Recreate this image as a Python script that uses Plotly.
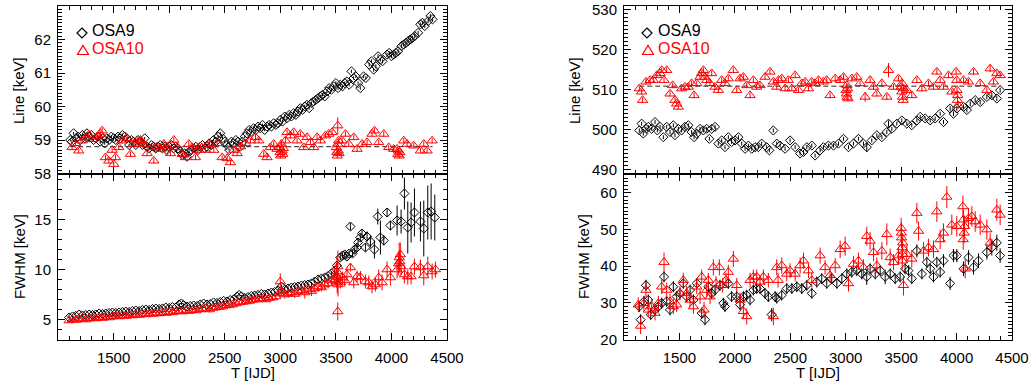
import plotly.graph_objects as go

# ---------------- data (T [IJD], value, error) ----------------
L_LINE_OSA9 = [
(1110,59.0,.04),(1125,58.95,.04),(1140,59.2,.04),(1160,59.05,.04),(1180,59.1,.04),(1200,59.0,.04),
(1220,59.15,.04),(1240,59.05,.04),(1260,59.2,.04),(1280,59.1,.04),(1300,59.15,.04),(1320,59.0,.04),
(1340,59.05,.04),(1360,59.1,.04),(1380,58.95,.04),(1400,59.05,.04),(1420,58.9,.04),(1440,59.05,.04),
(1460,59.0,.04),(1480,59.1,.04),(1500,59.05,.04),(1520,59.0,.04),(1540,59.1,.04),(1560,59.05,.04),
(1580,59.15,.04),(1600,59.1,.04),(1620,59.05,.04),(1640,58.85,.04),(1660,59.0,.04),(1680,58.95,.04),
(1700,58.85,.04),(1720,59.0,.04),(1740,58.95,.04),(1760,58.85,.04),(1780,59.05,.04),(1800,58.8,.04),
(1820,58.75,.04),(1840,58.85,.04),(1860,58.8,.04),(1880,58.75,.04),(1900,58.8,.04),(1920,58.85,.04),
(1940,58.75,.04),(1960,58.8,.04),(1980,58.7,.04),(2000,58.8,.04),(2020,58.85,.04),(2040,58.75,.04),
(2060,58.8,.04),(2080,58.75,.04),(2100,58.65,.04),(2120,58.55,.04),(2140,58.6,.04),(2160,58.5,.04),
(2180,58.65,.04),(2200,58.7,.04),(2220,58.75,.04),(2240,58.8,.04),(2260,58.7,.04),(2280,58.8,.04),
(2300,58.85,.04),(2320,58.75,.04),(2340,58.8,.04),(2360,58.9,.04),(2380,58.85,.04),(2400,59.0,.04),
(2420,58.95,.04),(2440,59.1,.04),(2460,59.2,.04),(2480,59.05,.04),(2500,58.95,.04),(2520,58.85,.04),
(2540,58.7,.04),(2560,58.95,.04),(2580,58.9,.04),(2600,59.0,.04),(2620,58.95,.04),(2640,58.8,.04),
(2660,58.95,.04),(2680,59.1,.04),(2700,59.2,.04),(2720,59.3,.04),(2740,59.25,.04),(2760,59.35,.04),
(2780,59.3,.04),(2800,59.4,.04),(2820,59.35,.04),(2840,59.45,.04),(2860,59.3,.04),(2880,59.4,.04),
(2900,59.45,.04),(2920,59.4,.04),(2940,59.5,.04),(2960,59.45,.04),(2980,59.5,.04),(3000,59.6,.05),
(3020,59.55,.05),(3040,59.7,.05),(3060,59.65,.05),(3080,59.75,.05),(3100,59.7,.05),(3120,59.8,.05),
(3140,59.75,.05),(3160,59.85,.05),(3180,59.95,.05),(3200,59.9,.05),(3220,60.0,.05),(3240,60.05,.05),
(3260,59.95,.05),(3280,60.1,.05),(3300,60.15,.05),(3320,60.2,.05),(3340,60.25,.05),(3360,60.3,.05),
(3380,60.35,.05),(3400,60.3,.05),(3420,60.45,.05),(3440,60.55,.05),(3460,60.5,.05),(3480,60.6,.05),
(3500,60.7,.05),(3520,60.55,.05),(3540,60.65,.05),(3560,60.6,.05),(3580,60.7,.05),(3600,60.75,.05),
(3620,60.65,.05),(3640,61.05,.05),(3660,60.85,.05),(3680,60.9,.05),(3700,60.7,.05),(3720,60.55,.05),
(3750,60.9,.05),(3770,60.85,.05),(3800,61.25,.06),(3820,61.35,.06),(3840,61.1,.06),(3860,61.2,.06),
(3880,61.5,.06),(3900,61.4,.06),(3920,61.35,.06),(3960,61.55,.06),(3980,61.6,.06),(4000,61.5,.06),
(4020,61.55,.06),(4040,61.6,.06),(4060,61.65,.06),(4090,61.8,.06),(4110,61.85,.06),(4130,61.9,.06),
(4150,61.95,.06),(4170,62.0,.06),(4190,62.05,.06),(4210,62.1,.06),(4240,62.2,.06),(4260,62.45,.06),
(4280,62.5,.06),(4300,62.4,.06),(4330,62.55,.06),(4350,62.7,.06),(4370,62.6,.06)]

L_LINE_OSA10 = [
(1127,58.78,.08),(1157,58.9,.08),(1187,58.68,.08),(1217,58.98,.08),(1247,59.08,.08),(1277,59.15,.08),
(1307,59.02,.08),(1352,59.1,.08),(1382,59.18,.08),(1397,59.28,.08),(1427,58.48,.08),(1457,58.38,.08),
(1487,58.7,.08),(1502,58.28,.08),(1517,58.48,.08),(1547,58.78,.08),(1577,58.98,.08),(1622,59.05,.08),
(1652,58.58,.08),(1682,58.88,.08),(1712,58.98,.08),(1742,59.0,.08),(1752,58.95,.08),(1772,58.88,.08),
(1802,58.6,.08),(1847,58.78,.08),(1862,58.38,.08),(1892,58.8,.08),(1922,58.73,.08),(1952,58.88,.08),
(1982,58.8,.08),(2012,58.6,.08),(2042,59.0,.08),(2072,58.78,.08),(2117,58.58,.08),(2147,58.48,.08),
(2177,58.88,.08),(2207,58.78,.08),(2237,58.48,.08),(2252,58.7,.08),(2282,58.8,.08),(2327,58.7,.08),
(2357,58.88,.08),(2402,58.7,.08),(2432,58.9,.08),(2477,58.48,.08),(2522,58.45,.08),(2552,58.33,.08),
(2582,58.7,.08),(2612,58.6,.08),(2642,58.8,.08),(2687,58.9,.08),(2732,58.98,.08),(2777,59.08,.08),
(2807,58.98,.08),(2851,58.58,.08),(2881,58.48,.08),(2911,58.78,.08),(2941,58.88,.08),(2971,58.73,.08),
(2994,58.78,.08),(2998,58.63,.08),(3004,58.53,.08),(3010,58.88,.08),(3016,58.68,.08),(3022,58.58,.08),
(3028,58.75,.08),(3046,58.98,.08),(3061,59.23,.08),(3091,59.13,.08),(3121,59.23,.08),(3151,58.98,.08),
(3181,59.18,.08),(3211,58.78,.08),(3241,59.08,.08),(3271,58.93,.08),(3301,58.78,.08),(3331,59.08,.08),
(3361,58.98,.08),(3406,59.13,.08),(3436,59.18,.08),(3466,59.23,.08),(3517,59.43,.25),(3505,58.78,.08),
(3509,58.63,.08),(3513,58.53,.08),(3517,58.88,.08),(3521,58.68,.08),(3525,58.98,.08),(3529,58.6,.08),
(3556,58.98,.08),(3586,59.18,.08),(3616,58.88,.08),(3661,59.08,.08),(3691,58.73,.08),(3736,58.88,.08),
(3781,58.93,.08),(3826,59.18,.08),(3847,59.28,.08),(3886,58.93,.08),(3931,59.18,.08),(3976,58.78,.08),
(4021,58.73,.08),(4051,58.73,.08),(4058,58.58,.08),(4064,58.68,.08),(4070,58.53,.08),(4076,58.63,.08),
(4111,58.98,.08),(4141,58.88,.08),(4201,58.83,.08),(4261,58.68,.08),(4291,58.88,.08),(4321,58.68,.08),
(4366,58.98,.08)]

L_FWHM_OSA9 = [
(1100,5.2,.1),(1130,5.3,.1),(1160,5.35,.1),(1190,5.5,.1),(1220,5.4,.1),(1250,5.45,.1),(1280,5.5,.1),
(1310,5.45,.1),(1340,5.5,.1),(1370,5.6,.1),(1400,5.55,.1),(1430,5.6,.1),(1460,5.65,.1),(1490,5.7,.1),
(1520,5.65,.1),(1550,5.7,.1),(1580,5.75,.1),(1610,5.8,.1),(1640,5.75,.1),(1670,5.85,.1),(1700,5.9,.1),
(1730,5.85,.1),(1760,5.95,.1),(1790,6.0,.1),(1820,5.95,.1),(1850,6.05,.1),(1880,6.1,.1),(1910,6.05,.1),
(1940,6.1,.1),(1970,6.2,.1),(2000,6.15,.1),(2030,6.25,.1),(2060,6.2,.1),(2090,6.5,.15),(2110,6.6,.15),
(2130,6.45,.15),(2160,6.3,.1),(2190,6.35,.1),(2220,6.4,.1),(2250,6.35,.1),(2280,6.5,.1),(2310,6.6,.1),
(2340,6.5,.1),(2370,6.55,.1),(2400,6.7,.1),(2430,6.65,.1),(2460,6.75,.1),(2490,6.85,.1),(2520,6.8,.1),
(2550,6.95,.1),(2580,7.0,.1),(2610,7.3,.15),(2630,7.45,.15),(2650,7.3,.15),(2680,7.15,.1),(2710,7.25,.1),
(2740,7.35,.1),(2770,7.4,.1),(2800,7.45,.1),(2830,7.55,.1),(2860,7.5,.1),(2890,7.6,.1),(2920,7.7,.1),
(2950,7.75,.1),(2980,7.9,.15),(3010,8.3,.2),(3040,8.0,.15),(3070,8.1,.15),(3100,8.2,.15),(3130,8.25,.15),
(3160,8.3,.15),(3190,8.4,.15),(3220,8.45,.15),(3250,8.5,.15),(3280,8.6,.15),(3310,8.8,.2),(3340,9.0,.2),
(3370,9.1,.2),(3400,9.2,.2),(3430,9.35,.2),(3460,9.6,.2),(3490,9.9,.25),(3510,10.4,.3),(3540,11.2,.3),
(3560,11.4,.3),(3580,11.5,.3),(3600,11.3,.3),(3620,11.6,.3),(3631,14.3,.35),(3650,11.6,.35),
(3670,12.0,.4),(3690,12.2,.4),(3700,12.7,.4),(3720,13.2,.4),(3735,13.6,.4),(3766,12.2,.4),
(3781,13.3,.5),(3811,12.8,.6),(3847,12.0,.9),(3877,15.3,.8),(3901,13.2,1.7),(3931,12.9,.5),
(3961,15.7,.4),(3991,14.4,.5),(4051,14.9,1.5),(4087,14.8,1.2),(4117,17.6,1.6),(4147,14.2,2.6),
(4177,14.7,2.0),(4207,15.7,2.4),(4261,14.8,2.0),(4291,14.1,2.8),(4327,15.7,2.7),(4357,15.8,2.8),
(4390,15.2,2.3)]

L_FWHM_OSA10 = [
(1100,4.9,.15),(1130,5.0,.15),(1160,4.95,.15),(1190,5.1,.15),(1220,5.05,.15),(1250,5.0,.15),
(1280,5.1,.15),(1310,5.15,.15),(1340,5.1,.15),(1370,5.2,.15),(1400,5.15,.15),(1430,5.25,.15),
(1460,5.2,.15),(1490,5.3,.15),(1520,5.35,.15),(1550,5.3,.15),(1580,5.4,.15),(1610,5.35,.15),
(1640,5.45,.15),(1670,5.4,.15),(1700,5.5,.15),(1730,5.45,.15),(1760,5.55,.15),(1790,5.5,.15),
(1820,5.6,.15),(1850,5.55,.15),(1880,5.65,.15),(1910,5.6,.15),(1940,5.7,.15),(1970,5.65,.15),
(2000,5.75,.15),(2030,5.7,.15),(2060,5.8,.15),(2090,5.85,.15),(2120,5.8,.15),(2150,5.9,.15),
(2180,5.85,.15),(2210,5.95,.15),(2240,5.9,.15),(2270,6.0,.15),(2300,6.05,.15),(2330,6.1,.15),
(2360,6.0,.3),(2390,6.15,.15),(2420,6.2,.15),(2450,6.25,.15),(2480,6.3,.15),(2510,6.4,.15),
(2540,6.45,.15),(2570,6.5,.15),(2600,6.6,.2),(2630,6.7,.2),(2660,6.75,.2),(2690,6.8,.2),
(2720,6.85,.2),(2750,6.95,.2),(2780,7.0,.2),(2810,7.05,.2),(2840,7.1,.25),(2870,7.0,.25),
(2900,7.15,.25),(2930,7.2,.25),(2960,7.3,.25),(2990,7.6,.3),(3000,8.8,.8),(3010,7.8,.4),
(3040,7.5,.4),(3070,7.6,.4),(3100,7.7,.4),(3130,7.55,.4),(3160,7.8,.5),(3190,7.9,.4),(3220,7.7,.6),
(3250,8.0,.4),(3280,7.85,.5),(3310,8.1,.4),(3340,8.3,.5),(3370,8.2,.4),(3400,8.5,.5),(3430,8.6,.5),
(3460,8.9,.5),(3490,9.0,.6),(3505,9.4,1.2),(3510,9.8,1.5),(3512,8.8,1.2),(3515,9.2,1.4),
(3518,10.3,1.6),(3520,8.5,1.2),(3517,5.8,.9),(3540,8.7,.6),(3560,9.2,.6),(3580,8.9,.6),(3600,9.5,.7),
(3631,10.2,.4),(3661,8.7,.6),(3691,9.3,.6),(3721,9.25,.6),(3766,8.8,.7),(3796,8.7,.7),(3826,8.3,.7),
(3856,8.5,.7),(3886,9.2,.8),(3916,8.7,.8),(3961,10.0,.8),(3991,9.2,.8),(4051,10.0,.9),(4065,10.6,1.2),
(4070,11.2,1.5),(4075,10.8,1.0),(4080,11.5,1.2),(4087,10.3,.9),(4117,9.5,.9),(4147,9.3,.8),
(4177,9.3,.8),(4207,10.3,.8),(4261,10.2,.8),(4291,9.4,1.0),(4327,10.3,1.0),(4366,9.8,.8),(4396,10.0,.8)]

R_LINE_OSA9 = [
(1138,499.8,.5),(1159,501.5,.5),(1174,499.0,.5),(1198,500.2,.5),(1219,500.7,.5),(1250,500.2,.5),
(1280,501.9,.5),(1301,499.8,.5),(1325,500.7,.5),(1355,498.1,.5),(1385,500.7,.5),(1415,499.4,.5),
(1445,501.1,.5),(1460,498.6,.5),(1490,500.2,.5),(1520,499.8,.5),(1550,500.7,.5),(1580,501.1,.5),
(1610,499.4,.5),(1632,498.1,.5),(1656,499.0,.5),(1686,500.2,.5),(1716,499.8,.5),(1746,500.2,.5),
(1770,497.7,.5),(1791,500.2,.5),(1821,500.7,.5),(1851,496.5,.5),(1881,497.3,.5),(1911,495.6,.5),
(1941,498.1,.5),(1971,496.9,.5),(2002,497.3,.5),(2032,498.1,.5),(2062,496.5,.5),(2092,495.2,.5),
(2122,496.0,.5),(2152,495.2,.5),(2182,495.6,.5),(2212,495.6,.5),(2242,496.5,.5),(2287,495.6,.5),
(2311,494.8,.5),(2347,499.8,.5),(2378,496.5,.5),(2408,496.0,.5),(2453,495.2,.5),(2498,497.3,.5),
(2544,495.6,.5),(2589,494.0,.5),(2619,494.4,.5),(2649,495.6,.5),(2694,496.0,.5),(2724,493.5,.5),
(2769,494.8,.5),(2799,495.6,.5),(2844,496.0,.5),(2890,496.0,.5),(2935,496.5,.5),(2980,497.7,.5),
(3025,495.6,.5),(3070,496.5,.5),(3115,497.7,.5),(3160,496.5,.5),(3190,495.6,1.2),(3235,497.3,.5),
(3281,498.6,.5),(3326,498.1,.5),(3371,499.4,.5),(3386,501.5,.8),(3416,500.2,.5),(3461,501.5,.5),
(3506,502.3,.5),(3551,501.5,.5),(3596,501.1,.5),(3642,502.3,.5),(3672,503.2,.5),(3717,502.8,.5),
(3762,502.3,.5),(3807,502.8,.5),(3852,504.0,.5),(3882,501.9,.5),(3942,505.3,.6),(3972,504.0,.6),
(4002,505.3,.6),(4063,505.7,.6),(4093,504.9,.6),(4123,506.5,.6),(4168,507.4,.6),(4213,506.9,.6),
(4273,508.2,.6),(4318,508.6,.6),(4363,507.8,.6),(4393,509.9,.6)]

R_LINE_OSA10 = [
(1138,510.3,.7),(1159,509.5,.7),(1168,507.4,.7),(1198,512.0,.7),(1235,512.4,.7),(1265,512.4,.7),
(1295,513.6,.7),(1325,514.1,.7),(1340,514.9,.7),(1361,512.4,.7),(1385,514.9,.7),(1415,509.0,.7),
(1439,511.1,.7),(1460,507.4,.7),(1475,506.5,.7),(1490,505.7,.7),(1520,510.3,.7),(1550,510.7,.7),
(1580,510.7,.7),(1610,511.6,.7),(1632,508.6,.7),(1656,511.6,.7),(1686,513.2,.7),(1701,514.1,.7),
(1716,514.9,.7),(1731,513.2,.7),(1746,512.4,.7),(1776,511.6,.7),(1791,514.1,.7),(1821,510.7,.7),
(1851,509.9,.7),(1881,512.4,.7),(1911,511.6,.7),(1941,512.8,.7),(1986,514.9,.7),(2017,509.9,.7),
(2047,512.8,.7),(2077,513.2,.7),(2107,511.1,.7),(2137,508.6,.7),(2167,512.4,.7),(2197,510.7,.7),
(2227,511.1,.7),(2272,513.2,.7),(2317,514.5,.7),(2347,512.0,.7),(2393,512.4,.7),(2378,510.7,.7),
(2423,512.8,.7),(2453,510.3,.7),(2483,512.4,.7),(2514,510.3,.7),(2544,513.6,.7),(2574,509.9,.7),
(2604,511.6,.7),(2634,512.0,.7),(2664,510.3,.7),(2694,512.0,.7),(2724,511.6,.7),(2754,512.4,.7),
(2799,512.0,.7),(2829,512.4,.7),(2859,508.6,.7),(2905,512.8,.7),(2950,512.4,.7),(2980,513.2,.7),
(3004,509.9,.7),(3008,509.0,.7),(3012,508.2,.7),(3016,510.3,.7),(3020,507.8,.7),(3010,511.1,.7),
(3055,512.8,.7),(3100,513.2,.7),(3130,511.6,.7),(3175,508.2,1.2),(3220,512.4,.7),(3251,510.7,.7),
(3281,509.0,.7),(3326,511.6,.7),(3371,508.2,.7),(3386,514.9,1.8),(3431,510.7,.7),(3476,512.8,.7),
(3500,510.7,.7),(3506,509.5,.7),(3512,508.2,.7),(3518,507.4,.7),(3509,511.6,.7),(3521,510.3,.7),
(3551,509.9,.7),(3596,508.6,.7),(3642,512.4,.7),(3687,510.3,.7),(3747,511.6,.7),(3792,510.7,.7),
(3822,514.5,.7),(3852,512.4,.7),(3882,510.7,.7),(3927,513.6,.7),(3957,509.5,.7),(3996,514.5,.7),
(4002,512.4,.7),(4008,507.4,.9),(4014,506.1,.9),(4004,509.9,.7),(4010,508.6,.7),(4063,512.4,.7),
(4108,512.0,.7),(4153,514.5,.7),(4213,511.6,.7),(4273,509.9,.7),(4303,515.3,.9),(4333,512.0,.7),
(4363,514.1,.7),(4393,513.6,.7)]

R_FWHM_OSA9 = [
(1138,29.0,1.5),(1150,25.4,1.5),(1180,30.4,1.5),(1198,34.8,1.5),(1219,30.8,1.5),(1241,26.8,1.5),
(1280,28.1,1.5),(1310,29.0,1.5),(1340,29.9,1.5),(1361,37.1,1.5),(1385,30.4,1.5),(1415,28.1,1.5),
(1445,34.4,1.5),(1475,31.7,1.5),(1505,32.6,1.5),(1535,35.3,1.5),(1565,31.7,1.5),(1596,33.5,1.5),
(1626,30.8,1.5),(1656,35.3,1.5),(1701,27.2,1.5),(1731,25.4,1.5),(1761,34.4,1.5),(1791,32.6,1.5),
(1821,33.5,1.5),(1866,34.8,1.5),(1896,29.9,1.5),(1911,29.0,1.5),(1941,35.3,1.5),(1971,31.7,1.5),
(2017,31.7,1.5),(2047,29.5,1.5),(2077,31.7,1.5),(2107,32.1,1.5),(2137,30.8,1.5),(2167,33.5,1.5),
(2197,33.9,1.5),(2227,33.9,1.5),(2272,32.6,1.5),(2302,31.7,1.5),(2332,26.8,1.8),(2363,31.7,1.5),
(2378,31.3,1.5),(2423,32.1,1.5),(2468,33.9,1.5),(2514,33.9,1.5),(2559,34.4,1.5),(2604,33.9,1.5),
(2649,34.8,1.5),(2694,32.6,1.5),(2739,35.7,1.5),(2784,36.6,1.5),(2829,35.3,1.5),(2874,36.6,1.5),
(2920,35.3,1.5),(2965,36.6,1.5),(3010,37.9,1.5),(3055,38.4,1.5),(3100,38.8,1.5),(3145,37.9,1.5),
(3190,37.1,2.2),(3220,39.3,1.5),(3266,37.9,1.5),(3311,38.8,1.5),(3356,37.1,2.0),(3401,37.9,1.5),
(3446,36.6,1.5),(3491,37.1,1.5),(3536,39.3,1.5),(3566,38.8,1.5),(3596,36.6,1.5),(3642,44.2,1.8),
(3687,37.9,1.5),(3732,41.1,1.5),(3762,39.3,1.5),(3792,37.1,1.5),(3822,41.1,1.5),(3852,38.4,1.5),
(3882,41.5,1.8),(3942,35.3,1.8),(3972,42.9,1.8),(4002,42.9,1.8),(4063,39.3,2.0),(4108,42.4,2.0),
(4153,39.7,2.0),(4198,41.5,2.0),(4273,43.8,2.0),(4318,45.1,2.2),(4363,46.4,2.2),(4393,42.9,2.0)]

R_FWHM_OSA10 = [
(1129,29.5,2.0),(1150,23.7,2.2),(1180,29.9,2.0),(1198,33.5,2.0),(1219,28.1,2.0),(1250,29.0,2.0),
(1280,27.2,2.0),(1310,29.9,2.0),(1340,34.4,2.0),(1361,41.1,2.6),(1385,33.5,2.0),(1415,30.4,2.0),
(1445,29.0,2.0),(1475,29.5,2.0),(1505,32.6,2.0),(1535,36.2,2.0),(1565,32.6,2.0),(1596,30.8,2.0),
(1626,29.0,2.0),(1656,34.4,2.0),(1686,31.7,2.0),(1701,37.1,2.0),(1722,28.1,2.2),(1746,33.5,2.0),
(1761,36.2,2.0),(1776,31.7,2.0),(1806,39.7,2.2),(1830,35.3,2.0),(1860,39.7,2.2),(1890,34.8,2.0),
(1920,36.2,2.0),(1941,38.4,2.0),(1986,42.0,2.2),(2017,34.8,2.0),(2047,30.8,2.0),(2077,27.7,2.0),
(2107,26.3,2.2),(2137,36.2,2.0),(2167,37.1,2.0),(2197,37.1,2.0),(2227,35.7,2.0),(2257,37.1,2.0),
(2302,36.2,2.0),(2347,26.3,2.4),(2378,39.7,2.2),(2390,36.2,2.0),(2423,40.2,2.2),(2468,37.9,2.0),
(2498,38.8,2.0),(2544,37.9,2.0),(2589,40.2,2.2),(2619,41.5,2.2),(2664,38.8,2.0),(2694,36.2,2.0),
(2769,42.9,2.2),(2814,39.7,2.0),(2859,37.5,2.0),(2905,40.2,2.0),(2950,44.6,2.4),(2995,45.5,2.6),
(3025,35.3,2.2),(3070,40.6,2.2),(3115,41.5,2.2),(3160,39.7,2.2),(3190,48.2,2.6),(3220,46.9,2.4),
(3251,43.8,2.4),(3281,40.2,2.2),(3326,44.2,2.4),(3371,48.7,3.0),(3401,42.4,2.4),(3431,41.1,2.2),
(3476,42.9,2.4),(3500,50.4,2.8),(3504,47.8,2.8),(3508,45.1,2.6),(3512,43.3,2.6),(3502,49.1,2.8),
(3514,46.4,2.6),(3510,41.5,2.4),(3521,34.8,2.8),(3551,43.3,2.4),(3596,42.0,2.4),(3642,54.5,2.8),
(3657,49.6,2.6),(3702,44.2,2.4),(3747,45.1,2.4),(3792,44.6,2.4),(3822,54.9,2.8),(3852,47.3,2.6),
(3882,49.1,2.6),(3912,58.9,3.0),(3957,51.3,2.8),(4002,50.9,2.8),(4057,56.3,3.0),(4063,52.7,2.8),
(4069,49.1,2.8),(4060,47.3,2.8),(4072,50.9,2.8),(4078,39.3,2.6),(4108,53.1,2.8),(4138,53.6,2.8),
(4168,52.2,2.8),(4213,51.3,2.8),(4273,50.0,2.8),(4303,46.4,2.6),(4363,55.4,3.0),(4393,54.0,2.8)]

LINE_REF_LEFT = 58.8     # dashed reference line (keV)
LINE_REF_RIGHT = 510.9
X_TICKS = [1500, 2000, 2500, 3000, 3500, 4000, 4500]
SERIES_NAMES = ["OSA9", "OSA10"]

# ---------------- styling ----------------
W, H = 1032, 383
FONT = "Liberation Sans, Arial, Helvetica, sans-serif"
BLACK, RED = "#000000", "#ff0000"

def px_x(p): return p / W
def px_y(p): return 1 - p / H

XL = [px_x(58), px_x(447)]
XR = [px_x(624), px_x(1012)]
YT = [px_y(173.5), px_y(6)]
YB = [px_y(339.5), px_y(173.5)]

fig = go.Figure()

def add_series(data, xa, ya, color, symbol, size):
    t = [d[0] for d in data]
    v = [d[1] for d in data]
    e = [d[2] for d in data]
    fig.add_trace(go.Scatter(
        x=t, y=v, xaxis=xa, yaxis=ya, mode="markers", showlegend=False,
        marker=dict(symbol=symbol, size=size, color=color, line=dict(color=color, width=1)),
        error_y=dict(type="data", array=e, visible=True, color=color, thickness=1, width=0)))

def add_ref(data_a, data_b, ref, xa, ya):
    ts = [d[0] for d in data_a] + [d[0] for d in data_b]
    fig.add_trace(go.Scatter(
        x=[min(ts), max(ts)], y=[ref, ref], xaxis=xa, yaxis=ya, mode="lines",
        showlegend=False, line=dict(color="#222222", width=1, dash="5px,3px")))

add_ref(L_LINE_OSA9, L_LINE_OSA10, LINE_REF_LEFT, "x", "y")
add_ref(R_LINE_OSA9, R_LINE_OSA10, LINE_REF_RIGHT, "x3", "y3")

add_series(L_LINE_OSA9, "x", "y", BLACK, "diamond-open", 7)
add_series(L_LINE_OSA10, "x", "y", RED, "triangle-up-open", 9)
add_series(L_FWHM_OSA9, "x2", "y2", BLACK, "diamond-open", 7)
add_series(L_FWHM_OSA10, "x2", "y2", RED, "triangle-up-open", 9)
add_series(R_LINE_OSA9, "x3", "y3", BLACK, "diamond-open", 7)
add_series(R_LINE_OSA10, "x3", "y3", RED, "triangle-up-open", 9)
add_series(R_FWHM_OSA9, "x4", "y4", BLACK, "diamond-open", 7)
add_series(R_FWHM_OSA10, "x4", "y4", RED, "triangle-up-open", 9)

common = dict(showline=True, linecolor=BLACK, linewidth=1, mirror="ticks", ticks="inside",
              tickcolor=BLACK, tickwidth=1, ticklen=7, showgrid=False, zeroline=False,
              automargin=False, tickfont=dict(family=FONT, size=15, color=BLACK))

def xax(domain, anchor, labels, match=None):
    d = dict(common, domain=domain, anchor=anchor, range=[1000, 4500], tickmode="array",
             tickvals=X_TICKS, showticklabels=labels, ticklabelstandoff=4,
             minor=dict(ticks="inside", dtick=100, tick0=1000, ticklen=4, tickcolor=BLACK))
    if match: d["matches"] = match
    return d

def yax(domain, anchor, rng, dtick, mdtick):
    return dict(common, domain=domain, anchor=anchor, range=rng, dtick=dtick, tick0=0,
                ticklabelstandoff=3,
                minor=dict(ticks="inside", dtick=mdtick, tick0=0, ticklen=4, tickcolor=BLACK))

fig.update_layout(
    width=W, height=H, autosize=False,
    margin=dict(l=0, r=0, t=0, b=0, pad=0, autoexpand=False),
    paper_bgcolor="white", plot_bgcolor="white", showlegend=False,
    xaxis=xax(XL, "y", False), yaxis=yax(YT, "x", [58, 63], 1, 0.1),
    xaxis2=xax(XL, "y2", True, "x"), yaxis2=yax(YB, "x2", [3, 19.6], 5, 1),
    xaxis3=xax(XR, "y3", False), yaxis3=yax(YT, "x3", [489, 531], 10, 1),
    xaxis4=xax(XR, "y4", True, "x3"), yaxis4=yax(YB, "x4", [20, 65.3], 10, 1),
)

ann = []
def label(text, x, y, angle=0, color=BLACK, size=15, xanchor="center"):
    ann.append(dict(text=text, x=px_x(x), y=px_y(y), xref="paper", yref="paper",
                    showarrow=False, textangle=angle, xanchor=xanchor, yanchor="middle",
                    font=dict(family=FONT, size=size, color=color)))

label("Line [keV]", 19, 91, -90)
label("FWHM [keV]", 19, 257, -90)
label("Line [keV]", 575, 91, -90)
label("FWHM [keV]", 583, 257, -90)
label("T [IJD]", 252.5, 372)
label("T [IJD]", 818, 372)
for x0 in (90, 656):
    label(SERIES_NAMES[0], x0, 30.5, 0, BLACK, 16, "left")
    label(SERIES_NAMES[1], x0, 49, 0, RED, 16, "left")
fig.update_layout(annotations=ann)

shapes = []
for xs in (82, 647):
    shapes.append(dict(type="path", xref="paper", yref="paper", xsizemode="pixel", ysizemode="pixel",
                       xanchor=px_x(xs), yanchor=px_y(33), path="M0,5 L5,0 L0,-5 L-5,0 Z",
                       line=dict(color=BLACK, width=1.2), fillcolor="rgba(0,0,0,0)"))
    shapes.append(dict(type="path", xref="paper", yref="paper", xsizemode="pixel", ysizemode="pixel",
                       xanchor=px_x(xs + 1), yanchor=px_y(50), path="M-5.5,-4.5 L5.5,-4.5 L0,4.5 Z",
                       line=dict(color=RED, width=1.2), fillcolor="rgba(0,0,0,0)"))
fig.update_layout(shapes=shapes)

fig.write_html("out.html", include_plotlyjs=True, full_html=True,
               default_width="1032px", default_height="383px",
               config={"displayModeBar": False},
               post_script="document.body.style.margin='0px';document.body.style.overflow='hidden';")
